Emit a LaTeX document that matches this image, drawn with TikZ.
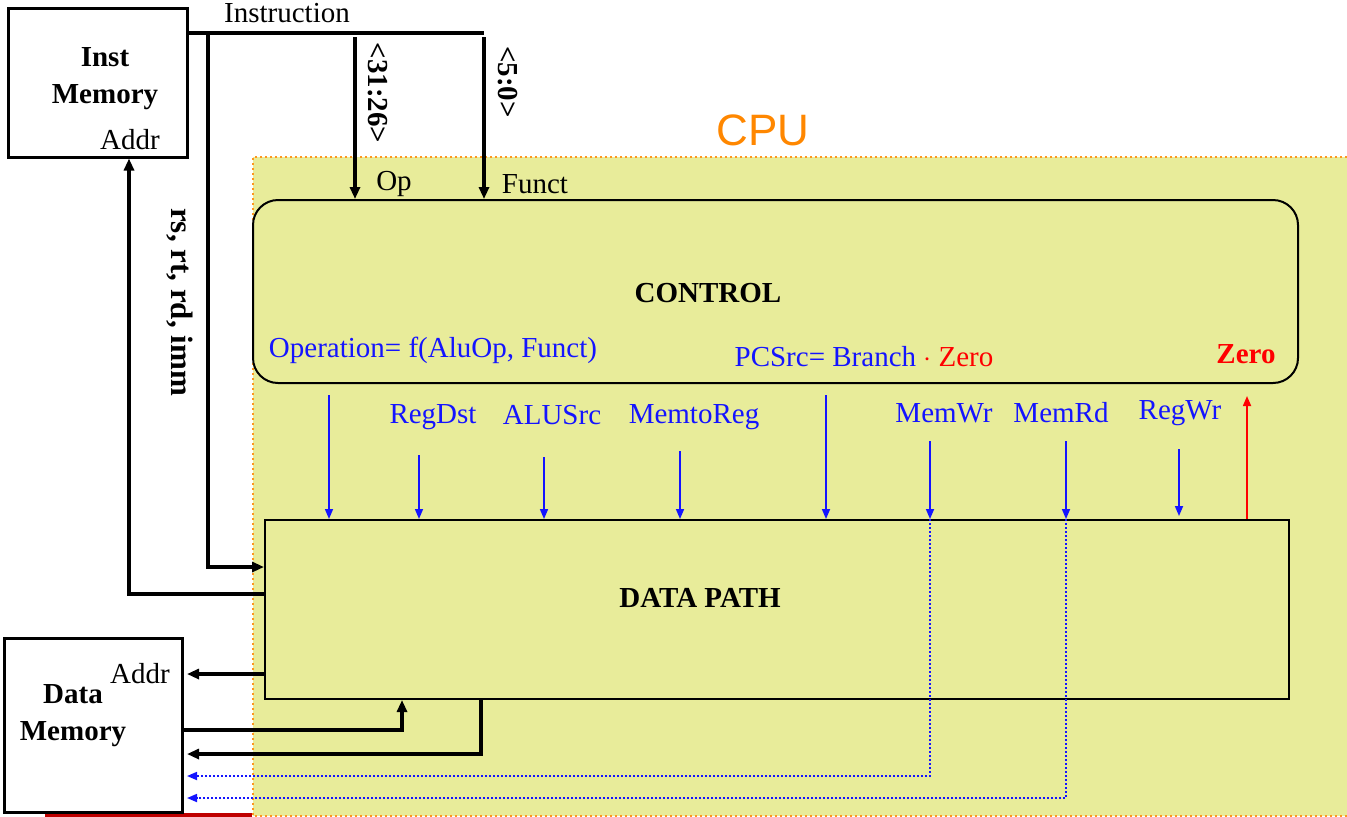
\documentclass[tikz,border=0pt]{standalone}
\usepackage{fontspec}
\setmainfont{Liberation Serif}
\newfontfamily\cpufont{Liberation Sans}
\usetikzlibrary{arrows.meta, positioning}
\definecolor{cpufill}{RGB}{232,236,154}
\definecolor{cpuedge}{RGB}{255,150,30}
\definecolor{cpuorange}{RGB}{255,135,0}
\definecolor{sigblue}{RGB}{20,20,255}
\definecolor{sigred}{RGB}{255,0,0}

\begin{document}
\begin{tikzpicture}[x=0.5pt, y=-0.5pt,
  font=\fontsize{14.5}{17}\selectfont,
  box/.style={draw, line width=1.5pt, fill=white, inner sep=0pt},
  unit/.style={draw, line width=1pt, inner sep=0pt},
  bus/.style={line width=1.7pt, -{Triangle[length=6pt, width=5pt]}},
  wire/.style={line width=1.7pt},
  ctl/.style={sigblue, line width=0.8pt, -{Triangle[length=5pt, width=4pt]}},
  memctl/.style={sigblue, line width=0.9pt, dash pattern=on 1pt off 1pt, -{Triangle[length=5pt, width=4pt]}},
  sig/.style={text=sigblue},
  bold/.style={font=\fontsize{14.5}{17}\selectfont\bfseries}]
	% frame
	\useasboundingbox (0,0) rectangle (1347,816);
	
	% CPU area
	\fill[cpufill] (253,157) rectangle (1347,816);
	\draw[cpuedge, line width=0.6pt, dash pattern=on 1pt off 1.5pt] (1347,157) -- (253,157) -- (253,816) -- (1347,816);
	\node[text=cpuorange, font=\cpufont\fontsize{22}{26}\selectfont] (cpu) at (763,130) {CPU};
	\draw[red!75!black, line width=2.5pt] (45,815) -- (252,815);
	
	% memories
	\node[box, minimum width=89.5pt, minimum height=74.5pt] (instmem) at (97.5,82.5) {};
	\node[bold] (instlbl) at (105,57) {Inst};
	\node[bold] (instlbl2) at (105,97) {Memory};
	\node (instaddr) at (130,140) {Addr};
	\node[box, minimum width=89pt, minimum height=87pt] (datamem) at (93,725) {};
	\node[bold] (datalbl) at (73,694) {Data};
	\node[bold] (datalbl2) at (73,734) {Memory};
	\node (dataaddr) at (140,674) {Addr};
	
	% control and data path
	\node[unit, rounded corners=12.5pt, minimum width=522.5pt, minimum height=91.5pt] (control) at (775.5,291.5) {};
	\node[bold] (ctltitle) at (708,293) {CONTROL};
	\node[sig] (aluop) at (433,350) {Operation= f(AluOp, Funct)};
	\node (pcsrc) at (864,357) {\textcolor{sigblue}{PCSrc= Branch} \textcolor{sigred}{$\cdot$ Zero}};
	\node[bold, text=sigred] (zeroout) at (1246,354) {Zero};
	\node[unit, minimum width=512pt, minimum height=89.5pt] (datapath) at (777,609.5) {};
	\node[bold] (dptitle) at (700,598) {DATA PATH};
	
	% instruction bus
	\coordinate (ibus) at (484,33);
	\coordinate (rstap) at (208,33);
	\draw[wire] (instmem.east |- ibus) -- (ibus);
	\node (instlbl3) at (287,13) {Instruction};
	\draw[bus] (355,37) -- (control.north -| 355,0);
	\draw[bus] (484,37) -- (control.north -| 484,0);
	\node[bold, rotate=-90] (oplbl) at (378,93) {<31:26>};
	\node[bold, rotate=-90] (fnlbl) at (508,82) {<5:0>};
	\node (op) at (394,184) {Op};
	\node (funct) at (535,184) {Funct};
	\draw[bus] (rstap) |- (datapath.west |- 0,567);
	\node[bold, rotate=-90, font=\fontsize{15.5}{18}\selectfont\bfseries] (regs) at (180,302) {rs, rt, rd, imm};
	\draw[bus] (datapath.west |- 0,594) -| (instmem.south -| 129,0);
	
	% control signals
	\node[sig] (regdst) at (433,417) {RegDst};
	\node[sig] (alusrc) at (552,415) {ALUSrc};
	\node[sig] (memtoreg) at (694,417) {MemtoReg};
	\node[sig] (memwr) at (944,413) {MemWr};
	\node[sig] (memrd) at (1061,413) {MemRd};
	\node[sig] (regwr) at (1180,413) {RegWr};
	\draw[ctl] (329,395) -- (datapath.north -| 329,0);
	\draw[ctl] (419,455) -- (datapath.north -| 419,0);
	\draw[ctl] (544,457) -- (datapath.north -| 544,0);
	\draw[ctl] (680,451) -- (datapath.north -| 680,0);
	\draw[ctl] (826,395) -- (datapath.north -| 826,0);
	\draw[ctl] (930,441) -- (datapath.north -| 930,0);
	\draw[ctl] (1066,441) -- (datapath.north -| 1066,0);
	\draw[ctl] (1179,449) -- (1179,516);
	\draw[ctl, sigred] (datapath.north -| 1247,0) -- (1247,396);
	
	% data memory connections
	\coordinate (dmaddr) at (187,674);
	\coordinate (dmread) at (187,754);
	\coordinate (dmwr) at (187,776);
	\coordinate (dmrd) at (187,798);
	\draw[bus] (datapath.west |- dmaddr) -- (dmaddr);
	\draw[bus] (datamem.east |- 0,730) -| (datapath.south -| 402,0);
	\draw[bus] (datapath.south -| 481,0) |- (dmread);
	\draw[memctl] (datapath.north -| 930,0) |- (dmwr);
	\draw[memctl] (datapath.north -| 1066,0) |- (dmrd);
\end{tikzpicture}
\end{document}
